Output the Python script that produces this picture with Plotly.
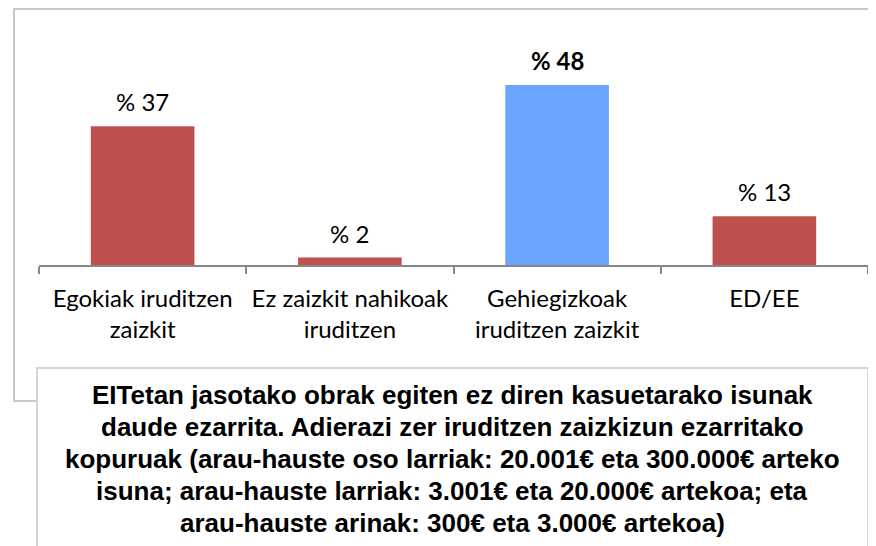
import plotly.graph_objects as go

categories = ["Egokiak iruditzen<br>zaizkit", "Ez zaizkit nahikoak<br>iruditzen",
              "Gehiegizkoak<br>iruditzen zaizkit", "ED/EE"]
values = [37, 2, 48, 13]
labels = ["% 37", "% 2", "<b>% 48</b>", "% 13"]
colors = ["#C0504D", "#C0504D", "#6AA6FF", "#C0504D"]
title_lines = [
    "EITetan jasotako obrak egiten ez diren kasuetarako isunak",
    "daude ezarrita. Adierazi zer iruditzen zaizkizun ezarritako",
    "kopuruak (arau-hauste oso larriak: 20.001€ eta 300.000€ arteko",
    "isuna; arau-hauste larriak: 3.001€ eta 20.000€ artekoa; eta",
    "arau-hauste arinak: 300€ eta 3.000€ artekoa)",
]

OFF = 8  # page body margin
W, H = 876 - OFF, 546 - OFF
L, R, T, B = 39 - OFF, 868 - OFF, 40 - OFF, 265 - OFF
YMAX = 60

def px(x):
    return (x - OFF - L) / (R - L)

def py(y):
    return (B - (y - OFF)) / (B - T)

fig = go.Figure()
fig.add_trace(go.Bar(x=categories, y=values, marker=dict(color=colors, line=dict(width=0)),
                     width=0.5, hoverinfo="skip"))

for c, v, t in zip(categories, values, labels):
    fig.add_annotation(x=c, y=v, text=t, showarrow=False, yanchor="bottom",
                       yshift=8, font=dict(family="Lato", size=24, color="#000000"))

shapes = [
    dict(type="rect", xref="paper", yref="paper", x0=px(14), x1=px(884), y0=py(401), y1=py(9),
         line=dict(color="#C8C8C8", width=2), fillcolor="rgba(0,0,0,0)", layer="below"),
    dict(type="rect", xref="paper", yref="paper", x0=px(37), x1=px(868), y0=py(560), y1=py(368),
         line=dict(color="#C8C8C8", width=1.5), fillcolor="#FFFFFF", layer="above"),
]

for i, line in enumerate(title_lines):
    fig.add_annotation(xref="paper", yref="paper", x=px(452), y=py(395 + 32 * i),
                       xanchor="center", yanchor="middle", showarrow=False,
                       text="<b>" + line + "</b>",
                       font=dict(family="Liberation Sans", size=26, color="#000000"))

fig.update_layout(
    width=W, height=H,
    margin=dict(l=L, r=W - R, t=T, b=H - B, pad=0),
    paper_bgcolor="white", plot_bgcolor="white",
    showlegend=False, shapes=shapes,
    bargap=0.5,
    xaxis=dict(showline=True, linecolor="#868686", linewidth=1.5, ticks="outside",
               tickson="boundaries", ticklen=7, tickcolor="#868686", tickwidth=1.5,
               ticklabelstandoff=11, tickangle=0,
               tickfont=dict(family="Lato", size=24, color="#000000"),
               showgrid=False, zeroline=False, fixedrange=True),
    yaxis=dict(range=[0, YMAX], visible=False, showgrid=False, zeroline=False, fixedrange=True),
)

fig.write_html("out.html")
